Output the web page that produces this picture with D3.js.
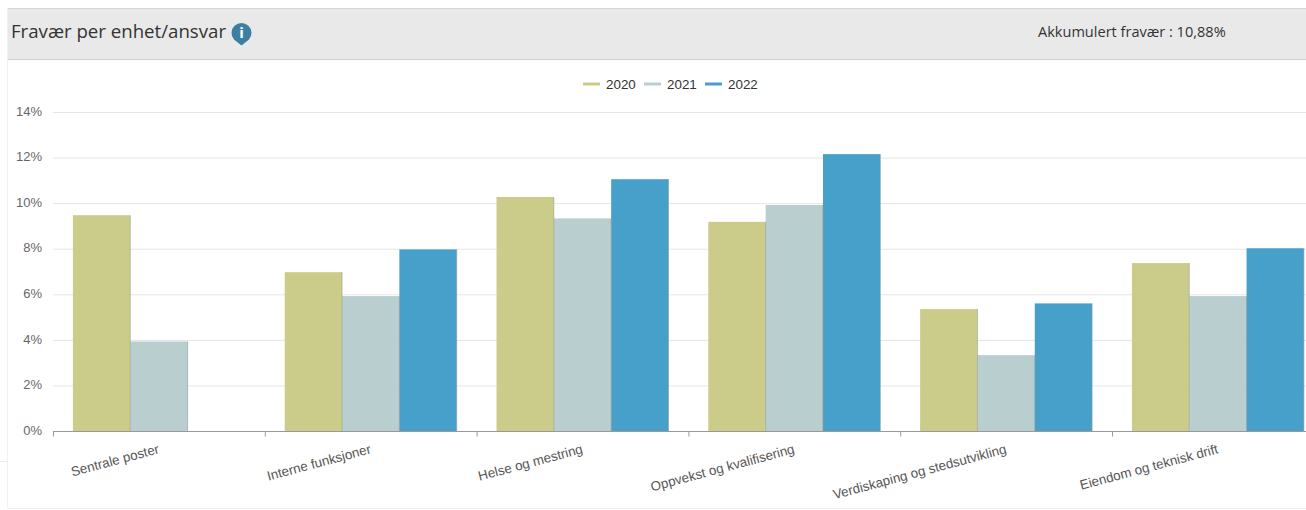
<!DOCTYPE html>
<html lang="no">
<head>
<meta charset="utf-8">
<title>Fravær per enhet/ansvar</title>
<script src="https://cdn.jsdelivr.net/npm/d3@7/dist/d3.min.js"></script>
<style>
  html, body { margin: 0; padding: 0; background: #fff; overflow: hidden; }
  svg { display: block; }
  .cat text { font-family: "Liberation Sans", Arial, sans-serif; font-size: 13.35px; fill: #555; }
  .val text { font-family: "Liberation Sans", Arial, sans-serif; font-size: 13px; fill: #666; }
  .legend text { font-family: "Liberation Sans", Arial, sans-serif; font-size: 13.4px; fill: #333; }
  .head { font-family: "Open Sans", sans-serif; fill: #333; }
</style>
</head>
<body>
<svg id="chart" width="1306" height="510"></svg>
<script>
// Absence percentage per unit, one array per year
const categories = ["Sentrale poster", "Interne funksjoner", "Helse og mestring",
  "Oppvekst og kvalifisering", "Verdiskaping og stedsutvikling", "Eiendom og teknisk drift"];
const years = ["2020", "2021", "2022"];
const values2020 = [9.47, 6.97, 10.27, 9.18, 5.35, 7.37];
const values2021 = [3.93, 5.92, 9.33, 9.92, 3.33, 5.92];
const values2022 = [null, 7.97, 11.05, 12.15, 5.6, 8.02];
const colors = ["#cccc8a", "#b9cecf", "#47a0ca"];
const yTicks = [0, 2, 4, 6, 8, 10, 12, 14];
const title = "Fravær per enhet/ansvar";
const summary = "Akkumulert fravær : 10,88%";

const seriesValues = [values2020, values2021, values2022];
const svg = d3.select("#chart");
const step = 211.8;

// Panel frame and header band
svg.append("rect").attr("x", 7.5).attr("y", 8.5).attr("width", 1310).attr("height", 500)
  .attr("fill", "#fff").attr("stroke", "#f0f1f1");
svg.append("rect").attr("x", 8).attr("y", 8).attr("width", 1298).attr("height", 51).attr("fill", "#e9e9e9");
svg.append("line").attr("x1", 8).attr("x2", 1306).attr("y1", 8.5).attr("y2", 8.5).attr("stroke", "#d6d6d6");
svg.append("line").attr("x1", 8).attr("x2", 1306).attr("y1", 59.5).attr("y2", 59.5).attr("stroke", "#cfcfcf");
svg.append("line").attr("x1", 0).attr("x2", 7).attr("y1", 461.5).attr("y2", 461.5).attr("stroke", "#e4eef2");

svg.append("text").attr("class", "head").attr("x", 11).attr("y", 38)
  .attr("font-size", 18.65).text(title);
svg.append("text").attr("class", "head").attr("x", 1038).attr("y", 37)
  .attr("font-size", 14.55).text(summary);

// Info badge: a circle tapering to a point below
const badge = svg.append("g").attr("transform", "translate(241.5,32.5)");
badge.append("path").attr("d", "M-7.5,7 A10,10 0 1 1 7.5,7 L0,13 Z").attr("fill", "#3d7fa3");
badge.append("text").attr("text-anchor", "middle").attr("y", 5.5)
  .attr("font-family", "'Open Sans', sans-serif").attr("font-weight", 700)
  .attr("font-size", 15).attr("fill", "#fff").text("i");

// Scales
const x0 = d3.scaleBand().domain(categories).range([53, 53 + step * 6]).paddingInner(0.188).paddingOuter(0.094);
const x1 = d3.scaleBand().domain(years).range([0, x0.bandwidth()]);
const y = d3.scaleLinear().domain([0, 14]).range([431, 112]);

// Value axis with gridlines across the plot
const yAxis = svg.append("g").attr("class", "val").attr("transform", "translate(53,0)")
  .call(d3.axisLeft(y).tickValues(yTicks).tickFormat(d => d + "%").tickSize(-1272).tickPadding(11));
yAxis.select(".domain").remove();
yAxis.selectAll("line").attr("stroke", "#e6e6e6");
yAxis.selectAll("text").attr("dy", "0.25em");

// Bars grouped by unit
const barData = (d, i) => years.map((yr, s) => ({ yr, s, v: seriesValues[s][i] })).filter(e => e.v !== null);
const groups = svg.append("g").selectAll("g").data(categories).join("g")
  .attr("transform", d => `translate(${x0(d)},0)`);
groups.selectAll("rect").data(barData).join("rect")
  .attr("x", e => x1(e.yr))
  .attr("y", e => y(e.v))
  .attr("width", x1.bandwidth())
  .attr("height", e => y(0) - y(e.v))
  .attr("fill", e => colors[e.s]);
groups.selectAll("line.edge").data(barData).join("line").attr("class", "edge")
  .attr("x1", e => x1(e.yr) + x1.bandwidth()).attr("x2", e => x1(e.yr) + x1.bandwidth())
  .attr("y1", e => y(e.v)).attr("y2", y(0))
  .attr("stroke", "#8f9a96").attr("stroke-opacity", 0.6);

// Category axis: ticks sit on group boundaries, labels are slanted and end at the group centre
const boundary = d3.scalePoint().domain(d3.range(7)).range([53, 53 + step * 6]);
const xAxis = svg.append("g").attr("class", "cat").attr("transform", "translate(0,431.5)")
  .call(d3.axisBottom(boundary).tickValues(d3.range(6)).tickSize(5).tickFormat(() => ""));
xAxis.select(".domain").attr("stroke", "#999").attr("d", "M53,0H1306");
xAxis.selectAll("line").attr("stroke", "#999");
xAxis.selectAll("text").remove();
const labels = svg.append("g").attr("class", "cat");
labels.selectAll("text").data(categories).join("text")
  .attr("text-anchor", "end")
  .attr("transform", d => `translate(${x0(d) + x0.bandwidth() / 2 + 1},453) rotate(-15)`)
  .text(d => d);

// Legend: short line key followed by the year
const legendX = d3.scalePoint().domain(years).range([583, 705]);
const legend = svg.append("g").attr("class", "legend").selectAll("g").data(years).join("g")
  .attr("transform", d => `translate(${legendX(d)},84)`);
legend.append("line").attr("x1", 0).attr("x2", 17).attr("stroke-width", 3)
  .attr("stroke", (d, i) => colors[i]);
legend.append("text").attr("x", 23).attr("y", 5).text(d => d);
</script>
</body>
</html>
